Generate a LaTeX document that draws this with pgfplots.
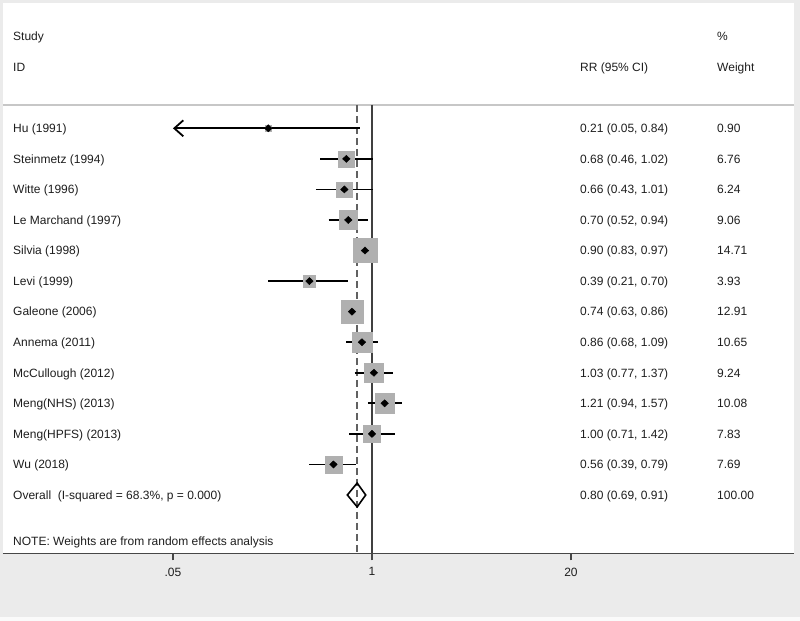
\documentclass[border=0pt]{standalone}
\usepackage{fontspec}
\setmainfont{Liberation Sans}
\usepackage{pgfplots}
\usepackage{pgfplotstable}
\pgfplotsset{compat=1.18}
\usetikzlibrary{arrows.meta}

\definecolor{bggray}{RGB}{235,235,235}
\definecolor{sqgray}{RGB}{176,176,176}
\definecolor{txt}{RGB}{30,30,30}

% y = row (Hu at top = 14), rr, CI, weight
\pgfplotstableread{
y  rr    lo    hi    w
14 0.21  0.05  0.84  0.90
13 0.68  0.46  1.02  6.76
12 0.66  0.43  1.01  6.24
11 0.70  0.52  0.94  9.06
10 0.90  0.83  0.97  14.71
9  0.39  0.21  0.70  3.93
8  0.74  0.63  0.86  12.91
7  0.86  0.68  1.09  10.65
6  1.03  0.77  1.37  9.24
5  1.21  0.94  1.57  10.08
4  1.00  0.71  1.42  7.83
3  0.56  0.39  0.79  7.69
}\studies

\begin{document}
\fontsize{12bp}{14bp}\selectfont
\begin{tikzpicture}[x=1bp,y=1bp,
  col/.style={anchor=west, inner sep=0pt, text=txt, text height=8.6bp, text depth=0pt,
    font=\fontsize{12bp}{14bp}\selectfont}]
\fill[bggray] (-3,-67.5) rectangle (797,553.5);
\fill[black!2] (-3,-67.5) rectangle (797,-63.5);
\fill[white] (0,0) rectangle (791,550);
\useasboundingbox (-3,-67.5) rectangle (797,553.5);
\begin{axis}[
  at={(0,0)}, anchor=south west, scale only axis,
  width=791bp, height=550bp,
  xmode=log, xmin=0.003871, xmax=574.1,
  ymin=0.085, ymax=18.085,
  axis x line=bottom, axis y line=none, ytick=\empty,
  x axis line style={-, draw=black!72, line width=1.1bp},
  xtick={0.05,1,20}, xticklabels={.05,1,20}, minor xtick={},
  xtick style={draw=black!72, line width=1.1bp},
  tick align=outside, major tick length=7bp,
  xticklabel style={font=\fontsize{12bp}{14bp}\selectfont, text=txt},
  xticklabel shift=3bp,
  clip=false,
]
% header separator and reference lines
\addplot[black!22, line width=1.5bp] coordinates {(0.003871,14.77) (574.1,14.77)};
\addplot[black!75, line width=1.5bp] coordinates {(1,14.77) (1,0.085)};
\addplot[black!62, line width=1.4bp, dash pattern=on 7bp off 4bp] coordinates {(0.80,14.77) (0.80,0.085)};

% weight squares
\addplot[scatter, only marks, mark=square*, draw=sqgray, fill=sqgray,
  mark options={draw=sqgray, fill=sqgray},
  scatter/use mapped color={draw=sqgray, fill=sqgray},
  visualization depends on={3.1*sqrt(\thisrow{w}) \as \msize},
  scatter/@pre marker code/.append style={/tikz/mark size=\msize}]
  table[x=rr, y=y] {\studies};

% confidence intervals
\addplot[black, line width=1.8bp, {Straight Barb[length=9bp,width=16bp]}-] coordinates {(0.05,14) (0.84,14)};
\addplot[black, line width=1.8bp, unbounded coords=jump] coordinates {
  (0.46,13) (1.02,13) (nan,nan)
  (0.43,12) (1.01,12) (nan,nan)
  (0.52,11) (0.94,11) (nan,nan)
  (0.83,10) (0.97,10) (nan,nan)
  (0.21,9) (0.70,9) (nan,nan)
  (0.63,8) (0.86,8) (nan,nan)
  (0.68,7) (1.09,7) (nan,nan)
  (0.77,6) (1.37,6) (nan,nan)
  (0.94,5) (1.57,5) (nan,nan)
  (0.71,4) (1.42,4) (nan,nan)
  (0.39,3) (0.79,3)
};
\addplot[only marks, mark=diamond*, mark size=3.6bp, mark options={xscale=1.4}, black] table[x=rr, y=y] {\studies};

% overall diamond
\addplot[black, line width=1.6bp, line join=miter] coordinates {(0.69,2) (0.80,2.39) (0.91,2) (0.80,1.61)} -- cycle;

% text columns
\node[col] at (axis cs:0.0045,17) {Study};
\node[col] at (axis cs:0.0045,16) {ID};
\node[col] at (axis cs:22.9,16) {RR (95\% CI)};
\node[col] at (axis cs:180.2,17) {\%};
\node[col] at (axis cs:180.2,16) {Weight};

\node[col] at (axis cs:0.0045,14) {Hu (1991)};
\node[col] at (axis cs:0.0045,13) {Steinmetz (1994)};
\node[col] at (axis cs:0.0045,12) {Witte (1996)};
\node[col] at (axis cs:0.0045,11) {Le Marchand (1997)};
\node[col] at (axis cs:0.0045,10) {Silvia (1998)};
\node[col] at (axis cs:0.0045,9) {Levi (1999)};
\node[col] at (axis cs:0.0045,8) {Galeone (2006)};
\node[col] at (axis cs:0.0045,7) {Annema (2011)};
\node[col] at (axis cs:0.0045,6) {McCullough (2012)};
\node[col] at (axis cs:0.0045,5) {Meng(NHS) (2013)};
\node[col] at (axis cs:0.0045,4) {Meng(HPFS) (2013)};
\node[col] at (axis cs:0.0045,3) {Wu (2018)};
\node[col] at (axis cs:0.0045,2) {Overall\ \ (I-squared = 68.3\%, p = 0.000)};
\node[col] at (axis cs:0.0045,0.5) {NOTE: Weights are from random effects analysis};

\node[col] at (axis cs:22.9,14) {0.21 (0.05, 0.84)};
\node[col] at (axis cs:22.9,13) {0.68 (0.46, 1.02)};
\node[col] at (axis cs:22.9,12) {0.66 (0.43, 1.01)};
\node[col] at (axis cs:22.9,11) {0.70 (0.52, 0.94)};
\node[col] at (axis cs:22.9,10) {0.90 (0.83, 0.97)};
\node[col] at (axis cs:22.9,9) {0.39 (0.21, 0.70)};
\node[col] at (axis cs:22.9,8) {0.74 (0.63, 0.86)};
\node[col] at (axis cs:22.9,7) {0.86 (0.68, 1.09)};
\node[col] at (axis cs:22.9,6) {1.03 (0.77, 1.37)};
\node[col] at (axis cs:22.9,5) {1.21 (0.94, 1.57)};
\node[col] at (axis cs:22.9,4) {1.00 (0.71, 1.42)};
\node[col] at (axis cs:22.9,3) {0.56 (0.39, 0.79)};
\node[col] at (axis cs:22.9,2) {0.80 (0.69, 0.91)};

\node[col] at (axis cs:180.2,14) {0.90};
\node[col] at (axis cs:180.2,13) {6.76};
\node[col] at (axis cs:180.2,12) {6.24};
\node[col] at (axis cs:180.2,11) {9.06};
\node[col] at (axis cs:180.2,10) {14.71};
\node[col] at (axis cs:180.2,9) {3.93};
\node[col] at (axis cs:180.2,8) {12.91};
\node[col] at (axis cs:180.2,7) {10.65};
\node[col] at (axis cs:180.2,6) {9.24};
\node[col] at (axis cs:180.2,5) {10.08};
\node[col] at (axis cs:180.2,4) {7.83};
\node[col] at (axis cs:180.2,3) {7.69};
\node[col] at (axis cs:180.2,2) {100.00};
\end{axis}
\end{tikzpicture}
\end{document}
